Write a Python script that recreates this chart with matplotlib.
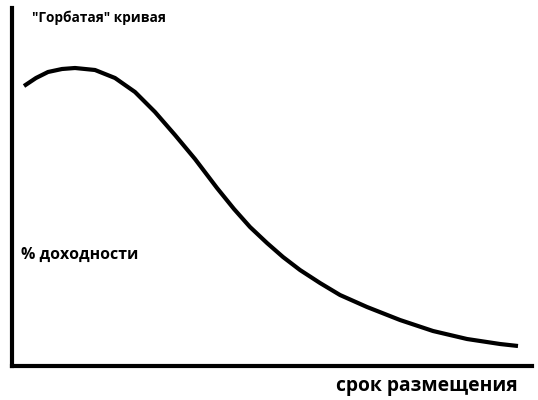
import matplotlib
matplotlib.use("Agg")
import matplotlib.pyplot as plt

# Curve values (term vs. yield)
term = [12, 24, 36, 50, 63, 83, 103, 123, 143, 163, 183, 205, 222, 238, 255, 271, 288,
        308, 328, 355, 388, 421, 455, 488, 506]
yield_pct = [280, 288, 294, 297, 298, 296, 288, 274, 254, 231, 207, 178, 157, 139, 123, 109, 96,
             83, 71, 59, 46, 35, 27, 22, 20]

title_text = '"Горбатая" кривая'
ylabel_text = '% доходности'
xlabel_text = 'срок размещения'

plt.rcParams['font.family'] = ['Open Sans', 'DejaVu Sans']

fig = plt.figure(figsize=(5.38, 4.0), dpi=100)
ax = fig.add_axes([12/538, 34/400, 520/538, 358/400])
ax.set_xlim(0, 520)
ax.set_ylim(0, 358)
ax.plot(term, yield_pct, color='black', lw=3.0, solid_capstyle='butt', solid_joinstyle='round')

for s in ['top', 'right']:
    ax.spines[s].set_visible(False)
for s in ['left', 'bottom']:
    ax.spines[s].set_linewidth(3.0)
    ax.spines[s].set_color('black')
ax.set_xticks([])
ax.set_yticks([])

fig.text(32/538, 1 - 18/400, title_text, fontsize=9.8, fontweight='bold', va='center', ha='left')
fig.text(21/538, 1 - 255/400, ylabel_text, fontsize=11.4, fontweight='bold', va='center', ha='left')
fig.text(518/538, 1 - 386/400, xlabel_text, fontsize=13.9, fontweight='bold', va='center', ha='right')

fig.savefig('out.png', dpi=100, facecolor='white')
